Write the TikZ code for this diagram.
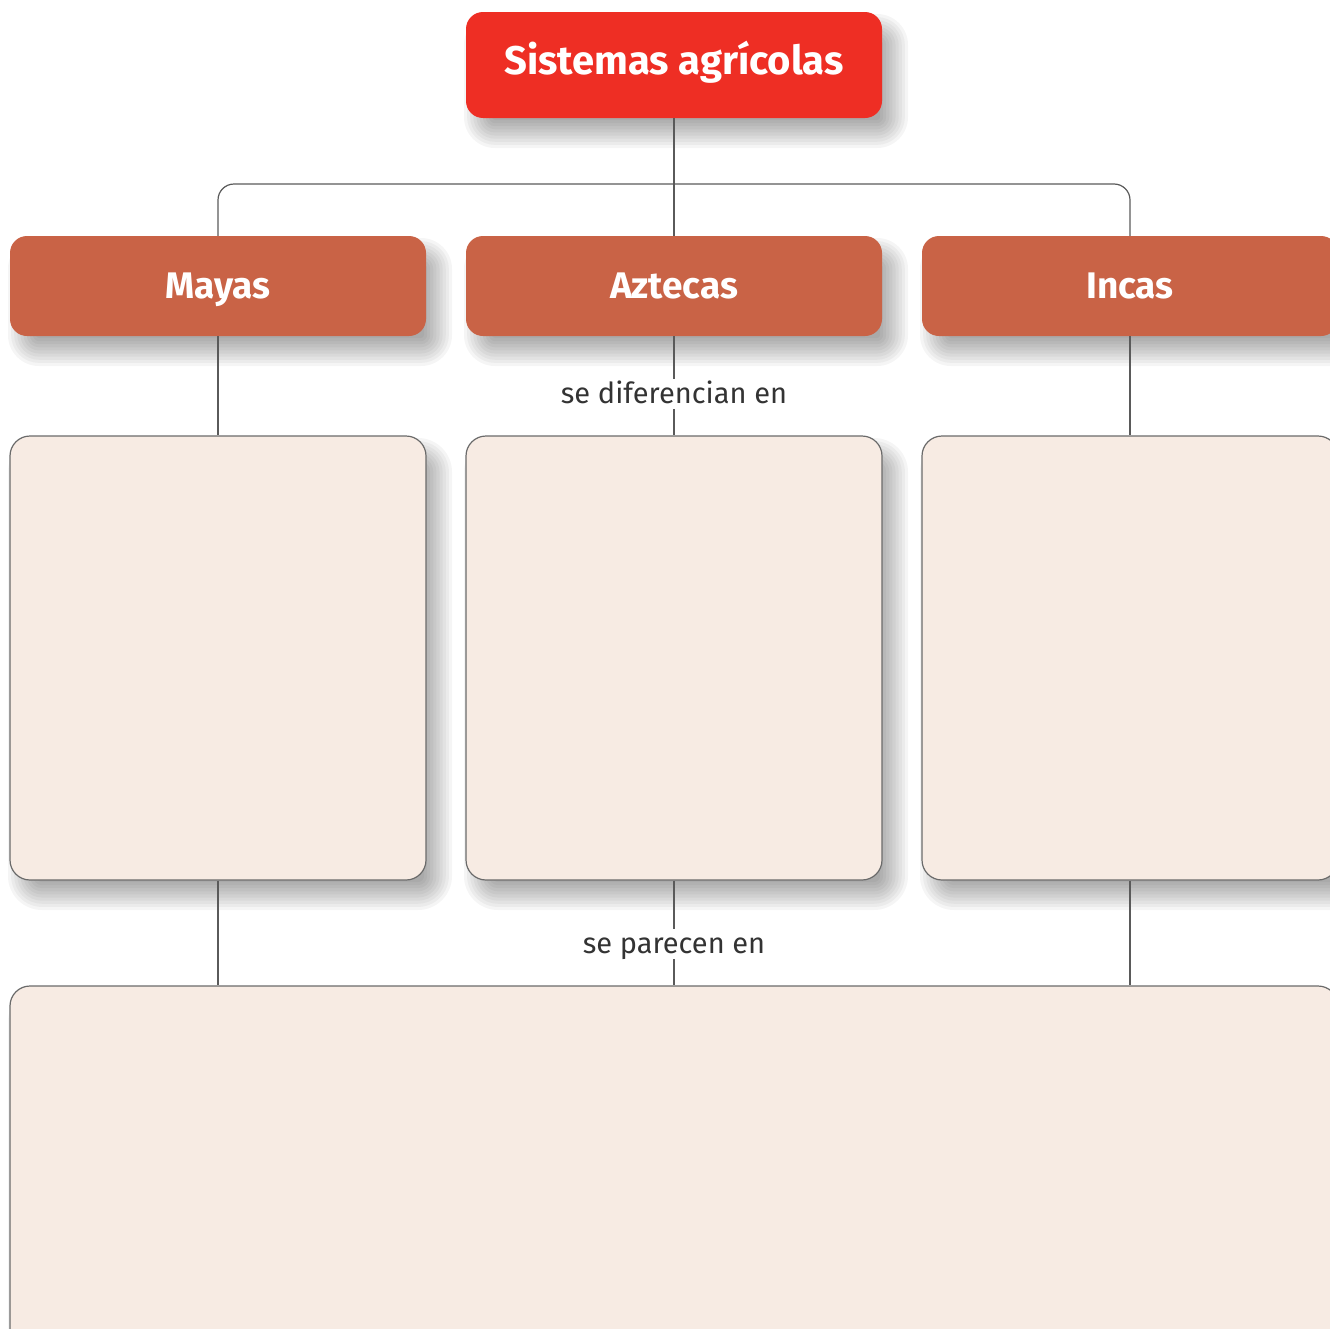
\documentclass[tikz,border=0pt]{standalone}
\usepackage{fontspec}
\setmainfont{Fira Sans}
\definecolor{topred}{HTML}{EE2E24}
\definecolor{rust}{HTML}{C96346}
\definecolor{cream}{HTML}{F7EBE3}
\definecolor{edgegray}{HTML}{6A6A6A}
\definecolor{linegray}{HTML}{5A5A5A}
\definecolor{labeltext}{HTML}{333333}
\newcommand\softshadow[5]{%
  \foreach \k in {0,...,9}{%
    \pgfmathsetmacro\ee{14-28*\k/9}%
    \pgfmathsetmacro\rr{max(1,#5+\ee)}%
    \fill[black,opacity=0.04,rounded corners=\rr pt]
      (#1+12-\ee,#2+16-\ee) rectangle (#3+12+\ee,#4+16+\ee);
  }%
}
\begin{document}
\begin{tikzpicture}[x=1pt,y=-1pt,
  topbox/.style={fill=topred,rounded corners=17pt,minimum width=416pt,minimum height=106pt,
    inner sep=0pt,text=white,font=\fontsize{40}{48}\selectfont\bfseries,
    text height=27.6pt,text depth=8pt},
  headbox/.style={fill=rust,rounded corners=17pt,minimum width=416pt,minimum height=100pt,
    inner sep=0pt,text=white,font=\fontsize{37}{44}\selectfont\bfseries,
    text height=25.5pt,text depth=0pt},
  creambox/.style={fill=cream,draw=edgegray,line width=1.2pt,rounded corners=20pt,inner sep=0pt},
  conn/.style={draw=linegray,line width=1.2pt},
  lbl/.style={fill=white,text=labeltext,font=\fontsize{29}{34}\selectfont,inner xsep=1pt,inner ysep=0pt,
    text height=24pt,text depth=6pt,anchor=base}]
\useasboundingbox (0,0) rectangle (1330,1328);
\clip (0,0) rectangle (1330,1328);
% shadows
\softshadow{466}{12}{882}{118}{17}
\softshadow{10}{236}{426}{336}{17}
\softshadow{466}{236}{882}{336}{17}
\softshadow{922}{236}{1338}{336}{17}
\softshadow{10}{436}{426}{880}{20}
\softshadow{466}{436}{882}{880}{20}
\softshadow{922}{436}{1338}{880}{20}
\softshadow{10}{986}{1338}{1360}{20}
% nodes
\node[topbox] (top) at (674,65) {Sistemas agrícolas};
\node[headbox] (mayas) at (218,286) {Mayas};
\node[headbox] (aztecas) at (674,286) {Aztecas};
\node[headbox] (incas) at (1130,286) {Incas};
\node[creambox,minimum width=416pt,minimum height=444pt] (bm) at (218,658) {};
\node[creambox,minimum width=416pt,minimum height=444pt] (ba) at (674,658) {};
\node[creambox,minimum width=416pt,minimum height=444pt] (bi) at (1130,658) {};
\node[creambox,minimum width=1328pt,minimum height=374pt] (bottom) at (674,1173) {};
\coordinate (hub) at (674,184);
% connectors
\draw[conn] (top.south) -- (aztecas.north);
\draw[conn,rounded corners=16pt] (mayas.north) |- (hub) -| (incas.north);
\draw[conn] (mayas.south) -- (bm.north);
\draw[conn] (incas.south) -- (bi.north);
\draw[conn] (aztecas.south) -- (ba.north);
\draw[conn] (bm.south) -- (bm.south |- bottom.north);
\draw[conn] (bi.south) -- (bi.south |- bottom.north);
\draw[conn] (ba.south) -- (bottom.north);
% labels
\node[lbl] (ldif) at (674,403) {se diferencian en};
\node[lbl] (lpar) at (674,953) {se parecen en};
\end{tikzpicture}
\end{document}
